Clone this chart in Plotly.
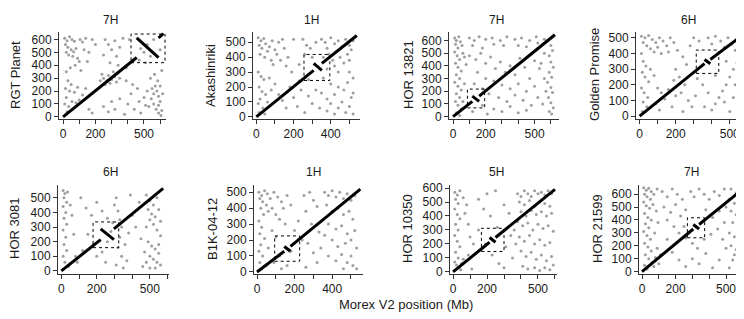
import plotly.graph_objects as go

# ---------------- data ----------------
chrom = ["7H", "1H", "7H", "6H", "6H", "1H", "5H", "7H"]
cultivar = ["RGT Planet", "Akashinriki", "HOR 13821", "Golden Promise",
            "HOR 3081", "B1K-04-12", "HOR 10350", "HOR 21599"]
ref_len = [620, 540, 625, 575, 575, 550, 600, 620]
qry_len = [645, 545, 645, 520, 565, 520, 590, 660]
inv_ref_start = [455, 308, 118, 360, 222, 145, 215, 305]
inv_ref_end = [590, 352, 160, 392, 297, 178, 250, 340]
inv_qry_start = [460, 312, 120, 335, 214, 130, 212, 330]
inv_qry_end = [612, 358, 162, 362, 287, 160, 246, 365]
box_x0 = [420, 256, 88, 314, 179, 94, 167, 270]
box_x1 = [630, 395, 194, 439, 324, 227, 300, 373]
box_y0 = [420, 244, 69, 273, 159, 67, 146, 262]
box_y1 = [642, 418, 217, 422, 335, 226, 312, 417]
x_tick_max = [600, 500, 600, 500, 600, 500, 600, 600]
y_tick_max = [600, 500, 600, 500, 500, 500, 600, 600]
x_tick_labels = [[0, 200, 500], [0, 200, 400], [0, 200, 500], [0, 200, 500],
                 [0, 200, 500], [0, 200, 400], [0, 200, 500], [0, 200, 500]]

pts_rgt_planet = [
    (10,610),(25,590),(40,620),(55,600),(70,585),(15,560),(30,540),(50,520),(65,505),(80,530),
    (20,500),(35,480),(60,470),(90,455),(105,600),(120,580),(140,610),(100,430),(75,400),(45,380),
    (20,350),(130,520),(160,500),(150,430),(110,360),(180,600),(200,560),
    (30,280),(50,250),(15,220),(40,200),(70,190),(90,230),(20,150),(55,120),(80,110),(100,130),
    (35,80),(60,60),(120,170),(140,220),(160,60),(180,30),(10,100),(25,40),
    (250,300),(270,280),(280,320),(300,290),(320,310),(330,270),(340,340),(260,250),(230,280),
    (310,350),(350,300),(240,330),(290,260),
    (260,600),(280,560),(300,520),(320,590),(330,470),(350,540),(290,420),(370,610),(250,480),
    (340,400),(390,380),(410,600),
    (250,80),(280,40),(300,120),(320,60),(350,140),(380,20),(400,100),(420,180),(440,60),(460,220),
    (480,30),(500,150),(510,90),(470,120),(430,250),(390,280),
    (550,220),(560,180),(570,240),(580,200),(590,160),(600,120),(560,100),(575,60),(590,30),(605,10),
    (610,50),(545,140),(530,80),(520,200),(600,240),(585,280),(615,180),(590,90),(540,300),(565,330),
    (610,360),(480,530),(500,500),(520,560),(540,470),(560,600),(600,520),(470,440),(510,420)]
pts_akashinriki = [
    (10,530),(25,510),(40,525),(15,480),(30,460),(50,490),(70,470),(85,510),(60,440),(20,420),
    (45,400),(80,380),(100,450),(120,500),(140,520),(110,420),(90,350),(130,380),(150,460),(170,400),
    (160,340),(200,520),(190,300),
    (10,300),(25,270),(40,250),(15,200),(30,170),(50,150),(20,120),(10,90),(35,60),(15,30),(45,20),
    (60,100),(80,180),(70,260),(100,220),(120,150),(140,110),(160,60),(180,200),(200,130),(230,240),
    (220,70),
    (250,520),(270,480),(290,460),(320,500),(260,420),(300,400),(230,350),(280,140),(300,90),(260,30),
    (320,180),(340,60),(240,180),(280,250),
    (350,520),(370,500),(380,460),(400,530),(420,490),(440,510),(460,470),(480,520),(500,480),(390,420),
    (410,380),(430,440),(450,400),(470,360),(490,420),(510,450),(360,400),(420,340),(500,380),(520,510),
    (380,320),(440,300),(500,300),(520,260),
    (380,120),(400,90),(420,150),(440,60),(460,100),(480,30),(500,70),(510,130),(520,20),(470,180),
    (440,200),(400,220),(360,260),(490,230),(380,40),(420,20),(350,160),(520,160)]
pts_hor13821 = [
    (10,620),(20,600),(35,630),(15,570),(30,540),(45,590),(55,560),(10,510),(25,480),(40,450),
    (60,500),(70,470),(15,420),(30,390),(50,360),(20,330),(40,300),(10,270),(30,240),(50,210),
    (20,180),(40,150),(15,120),(30,90),(50,60),(20,30),(40,10),(60,120),(70,260),(80,410),
    (100,620),(130,600),(160,630),(200,610),(240,620),(290,600),(330,630),(380,610),(420,620),(470,600),
    (510,630),(560,610),(120,560),(180,540),(250,570),(310,560),(400,560),(450,550),(520,580),
    (100,480),(140,450),(170,500),(200,420),(230,470),(260,380),(290,430),(320,350),(350,400),(380,330),
    (410,460),(440,390),(470,300),(500,440),(530,380),(150,350),(200,300),(250,280),(300,250),(350,220),
    (400,260),(450,200),(500,240),(180,220),(220,180),(130,260),(280,150),(330,120),(380,170),(430,130),
    (480,90),(520,150),(250,60),(300,40),(350,80),(400,30),(450,50),(120,40),(180,90),(210,20),
    (580,600),(600,560),(610,520),(590,480),(600,430),(615,390),(590,350),(605,310),(580,270),(600,230),
    (610,190),(585,150),(600,110),(615,70),(590,40),(605,20),(560,500),(560,300),(550,100),(570,200),
    (540,420)]
pts_golden_promise = [
    (10,510),(30,500),(50,515),(70,490),(20,470),(40,450),(60,430),(90,470),(110,500),(130,480),
    (80,410),(100,440),(120,400),(150,450),(170,500),(190,470),(160,410),
    (10,400),(20,350),(35,320),(15,280),(30,250),(50,220),(10,180),(25,150),(45,120),(20,90),
    (40,60),(15,30),(60,300),(80,260),(100,180),(120,150),(140,110),(160,170),(180,60),(200,130),
    (90,80),(110,40),
    (210,420),(240,380),(260,330),(280,450),(220,250),(250,200),(230,150),(270,100),(290,60),(310,130),
    (300,500),(330,480),(350,200),(320,240),(240,30),(200,300),(190,230),
    (380,500),(400,460),(420,510),(450,480),(470,440),(490,500),(510,460),(530,420),(550,490),(560,380),
    (540,340),(520,300),(500,250),(480,200),(460,160),(440,120),(420,80),(400,40),(520,120),(550,60),
    (560,20),(500,30),(470,90),(380,150),(360,60),(530,200),(555,250),(480,350),(420,260)]
pts_hor3081 = [
    (10,550),(20,530),(35,540),(15,500),(30,470),(10,440),(25,400),(15,360),(30,320),(10,280),
    (25,230),(15,180),(30,140),(10,100),(20,60),(40,30),(50,450),(60,380),(70,250),(80,100),(90,60),
    (110,500),(140,430),(170,380),(200,470),(230,410),(260,360),(290,330),(150,250),(180,180),(120,140),
    (200,100),(250,60),(230,130),(260,200),(280,270),(300,450),(310,500),(320,410),(330,350),(340,300),
    (330,230),(320,160),(340,100),(310,40),(350,20),(360,180),(380,260),(400,380),(420,300),(440,470),
    (390,520),(370,70),
    (480,520),(500,480),(520,450),(540,500),(490,420),(510,390),(530,370),(550,420),(500,350),(520,320),
    (480,300),(540,280),(560,240),(490,200),(510,170),(530,150),(550,120),(500,100),(520,80),(540,60),
    (560,40),(480,60),(500,20),(530,20),(550,180),(470,130),(560,340),(450,220),(460,30)]
pts_b1k_04_12 = [
    (10,500),(25,480),(40,510),(55,490),(15,460),(30,440),(50,420),(70,460),(90,500),(110,470),
    (130,440),(80,400),(60,380),(100,360),(120,330),(140,400),(160,480),(180,420),(150,300),(20,400),
    (35,360),
    (10,320),(25,280),(15,240),(40,210),(20,170),(10,130),(30,100),(15,60),(25,20),(50,40),
    (60,150),(80,260),(100,220),(120,100),(90,60),(160,40),(180,130),(200,260),(220,320),(240,200),
    (130,20),
    (250,480),(280,500),(300,450),(320,410),(260,380),(290,300),(330,250),(270,180),(300,120),(320,60),
    (260,30),(340,150),
    (360,500),(380,480),(400,510),(420,470),(440,500),(460,460),(480,490),(500,450),(520,480),(370,420),
    (400,380),(430,400),(460,360),(490,380),(510,330),(380,300),(420,270),(450,290),(480,240),(520,260),
    (400,200),(430,160),(470,180),(500,200),(530,150),(380,100),(420,70),(450,110),(480,60),(510,40),
    (530,20),(460,20),(500,100),(360,230)]
pts_hor10350 = [
    (10,570),(25,550),(40,580),(15,520),(30,490),(10,450),(25,410),(40,380),(15,340),(30,300),
    (10,260),(25,220),(40,180),(15,140),(30,100),(10,70),(20,50),(35,30),(50,60),(45,15),
    (60,90),(60,530),(80,480),(70,420),(90,340),(100,250),(120,200),(90,120),(110,20),
    (150,520),(200,560),(250,580),(180,450),(220,400),(260,320),(150,300),(190,200),(230,120),(270,60),
    (300,30),(310,180),(300,480),(330,420),(340,260),(350,100),
    (380,560),(400,540),(420,580),(440,560),(460,540),(480,580),(500,560),(520,570),(540,550),(560,580),
    (580,560),(390,500),(420,480),(450,510),(480,470),(510,500),(540,490),(570,470),(400,430),(430,400),
    (460,440),(490,410),(520,430),(550,400),(580,420),(380,360),(410,330),(440,350),(470,300),(500,340),
    (530,310),(560,330),(590,290),(390,250),(420,220),(450,260),(480,200),(510,230),(540,190),(570,210),
    (400,150),(430,110),(460,140),(490,90),(520,120),(550,80),(580,110),(410,40),(440,20),(480,30),
    (510,10),(540,30),(570,15),(590,50),(370,200),(360,300)]
pts_hor21599 = [
    (10,650),(25,630),(40,645),(55,620),(15,600),(30,580),(50,560),(70,600),(90,640),(10,540),
    (25,510),(45,490),(65,520),(85,470),(15,450),(35,420),(55,400),(20,370),(40,340),(10,310),
    (30,280),(50,250),(15,220),(35,190),(55,160),(20,130),(40,100),(60,70),(15,50),(30,20),
    (70,40),(80,110),(90,180),(100,60),(110,130),(75,300),(95,380),
    (120,620),(150,580),(180,640),(210,600),(240,560),(130,500),(170,460),(200,520),(230,430),(260,480),
    (290,620),(310,580),(340,640),(370,600),(400,560),(430,620),(460,590),(490,640),(150,400),(190,350),
    (220,300),(260,260),(300,220),(330,180),(370,250),(410,290),(450,330),(420,420),(460,470),(500,500),
    (380,480),(150,250),(180,150),(220,90),(260,40),(300,100),(340,60),(380,140),(420,30),(460,90),
    (250,350),(280,300),
    (530,640),(560,610),(590,650),(610,600),(520,560),(550,530),(580,560),(600,510),(530,470),(560,440),
    (590,460),(610,410),(540,380),(570,350),(600,320),(520,300),(550,270),(580,240),(610,220),(530,200),
    (560,170),(590,140),(610,110),(540,90),(570,60),(600,40),(610,15),(520,30),(550,130),(500,180),
    (480,250),(490,380)]
points = [pts_rgt_planet, pts_akashinriki, pts_hor13821, pts_golden_promise,
          pts_hor3081, pts_b1k_04_12, pts_hor10350, pts_hor21599]

# ---------------- layout geometry (pixels) ----------------
W, H = 744, 319
x_dom_px = [(51, 158), (245, 352), (441, 551), (628, 740),
            (50, 161), (246, 355), (442, 549), (631, 740)]
y_dom_px = [(21, 110)] * 4 + [(179, 270)] * 4
x_rng = [(-25, 636), (-18, 557), (-25, 650), (-20, 601),
         (-19, 608), (-16, 564), (-18, 612), (-18, 631)]
y_rng = [(-13, 655), (-11, 566), (-15, 664), (-15, 535),
         (-18, 585), (-10, 543), (-12, 619), (-15, 668)]
title_px = [(103, 8), (303, 8), (488, 8), (680, 8),
            (103, 165), (305, 165), (488, 165), (683, 165)]
ytitle_px = [(8, 65), (203, 65), (401, 65), (587, 65),
             (7, 224), (205, 224), (400, 224), (590, 224)]

FONT = "Liberation Sans, Arial, Helvetica, sans-serif"
fig = go.Figure()
annotations = []
shapes = []
for i in range(8):
    ax = "" if i == 0 else str(i + 1)
    xr, yr = "x" + ax, "y" + ax
    xs = [p[0] for p in points[i]]
    ys = [p[1] for p in points[i]]
    fig.add_trace(go.Scatter(x=xs, y=ys, mode="markers", xaxis=xr, yaxis=yr,
                             marker=dict(size=3, color="rgba(80,80,80,0.55)"),
                             showlegend=False, hoverinfo="skip"))
    a, b = inv_ref_start[i], inv_ref_end[i]
    aq, bq = inv_qry_start[i], inv_qry_end[i]
    lx = [0, a, None, a, b, None, b, ref_len[i]]
    ly = [0, aq, None, bq, aq, None, bq, qry_len[i]]
    fig.add_trace(go.Scatter(x=lx, y=ly, mode="lines", xaxis=xr, yaxis=yr,
                             line=dict(color="black", width=3),
                             showlegend=False, hoverinfo="skip"))
    shapes.append(dict(type="rect", xref=xr, yref=yr,
                       x0=box_x0[i], x1=box_x1[i], y0=box_y0[i], y1=box_y1[i],
                       line=dict(color="black", width=1, dash="dot")))
    xt = list(range(0, x_tick_max[i] + 1, 100))
    xtt = [str(v) if v in x_tick_labels[i] else "" for v in xt]
    yt = list(range(0, y_tick_max[i] + 1, 100))
    common = dict(showgrid=False, zeroline=False, showline=True, linecolor="#333",
                  linewidth=1, ticks="outside", ticklen=4, tickcolor="#333",
                  tickfont=dict(size=12, color="#1a1a1a", family=FONT))
    fig.layout["xaxis" + ax] = dict(
        domain=[x_dom_px[i][0] / W, x_dom_px[i][1] / W], range=list(x_rng[i]),
        anchor=yr, tickvals=xt, ticktext=xtt, **common)
    fig.layout["yaxis" + ax] = dict(
        domain=[1 - y_dom_px[i][1] / H, 1 - y_dom_px[i][0] / H], range=list(y_rng[i]),
        anchor=xr, tickvals=yt, ticktext=[str(v) for v in yt], **common)
    tx, ty = title_px[i]
    annotations.append(dict(text=chrom[i], x=tx / W, y=1 - ty / H, xref="paper", yref="paper",
                            showarrow=False, xanchor="center", yanchor="middle",
                            font=dict(size=12, color="#1a1a1a", family=FONT)))
    yx, yy = ytitle_px[i]
    annotations.append(dict(text=cultivar[i], x=yx / W, y=1 - yy / H, xref="paper", yref="paper",
                            showarrow=False, xanchor="center", yanchor="middle", textangle=-90,
                            font=dict(size=13, color="#1a1a1a", family=FONT)))

annotations.append(dict(text="Morex V2 position (Mb)", x=398 / W, y=1 - 302 / H,
                        xref="paper", yref="paper", showarrow=False,
                        xanchor="center", yanchor="middle",
                        font=dict(size=13, color="#1a1a1a", family=FONT)))

fig.update_layout(width=W, height=H, margin=dict(l=0, r=0, t=0, b=0),
                  paper_bgcolor="white", plot_bgcolor="white",
                  annotations=annotations, shapes=shapes,
                  font=dict(family=FONT))
fig.write_html("out.html")
